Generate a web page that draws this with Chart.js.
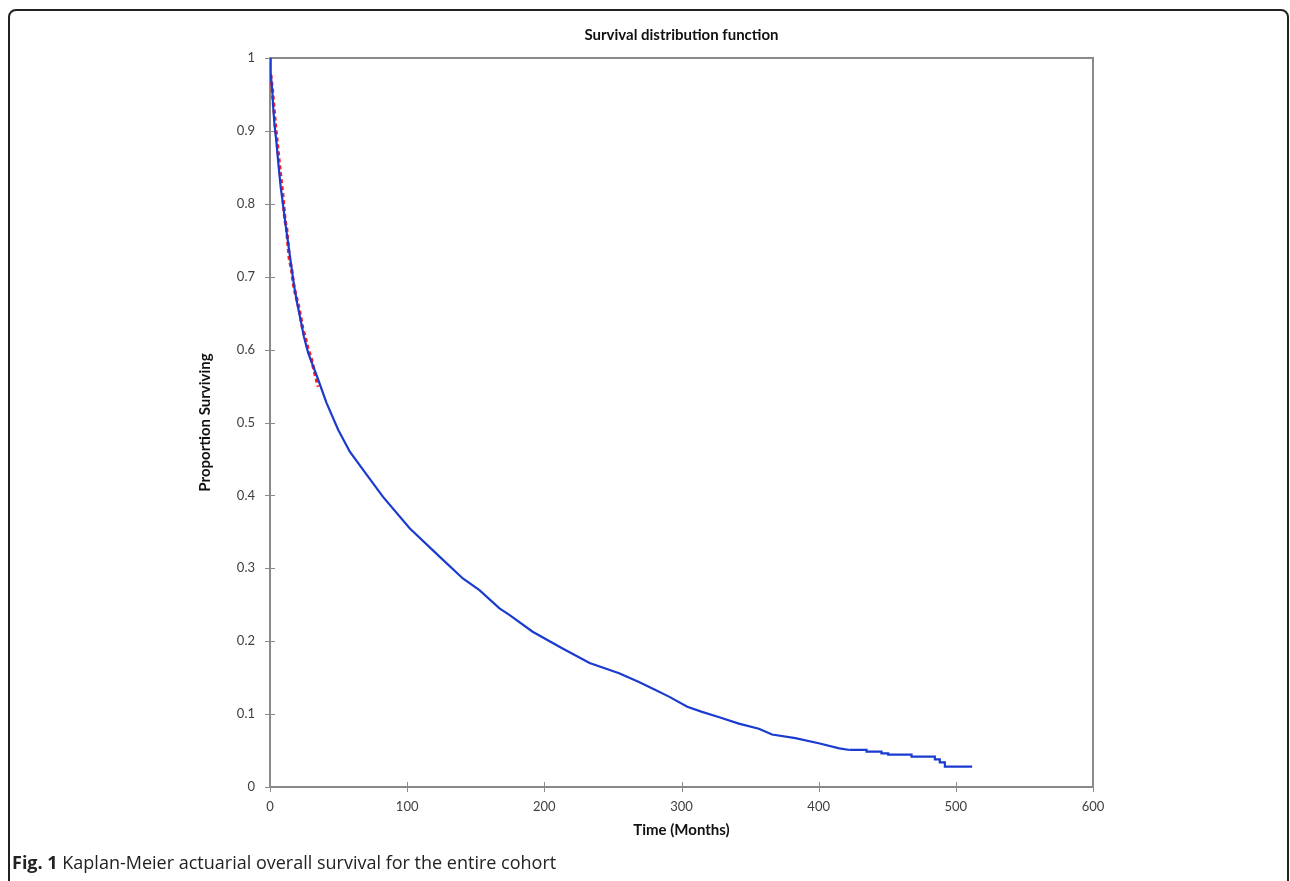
<!DOCTYPE html>
<html>
<head>
<meta charset="utf-8">
<title>Survival distribution function</title>
<script src="https://cdn.jsdelivr.net/npm/chart.js@4.4.1/dist/chart.umd.min.js"></script>
<style>
    html, body { margin: 0; padding: 0; background: #fff; }
    #wrap { position: relative; width: 1290px; height: 881px; overflow: hidden; }
    #frame {
        position: absolute; left: 8px; top: 9px; width: 1277px; height: 900px;
        border: 2px solid #222; border-radius: 8px; pointer-events: none;
    }
    #caption {
        position: absolute; left: 12px; top: 851px; line-height: 22px;
        font-family: 'Open Sans', sans-serif; font-size: 18px; color: #222; white-space: nowrap;
    }
    #caption b { font-weight: 700; }
</style>
</head>
<body>
<div id="wrap">
    <canvas id="survivalChart" width="1290" height="881"></canvas>
    <div id="frame"></div>
    <div id="caption"><b>Fig. 1</b> Kaplan-Meier actuarial overall survival for the entire cohort</div>
</div>
<script>
// Kaplan-Meier estimate, whole cohort (time in months, proportion surviving)
const curveMonths = [0, 0.5, 1.7, 2.4, 3.2, 4.8, 6.1, 7.8, 9.7, 11.6, 13.6, 15.8, 17.7, 19.9, 22.3, 24.7,
    27.9, 31.5, 35.1, 41.2, 49.7, 58.2, 67.9, 82.4, 101.8, 123.6, 140.6, 152.7, 167.3, 174.5, 191.5,
    213.3, 233, 254.5, 269, 278.8, 290.9, 304.2, 315, 327, 341.8, 356.4, 366, 383, 400, 415, 422.7];
const curveSurvival = [1, 0.979, 0.954, 0.931, 0.910, 0.883, 0.855, 0.823, 0.796, 0.768, 0.741, 0.711, 0.686, 0.663, 0.641, 0.618,
    0.595, 0.577, 0.559, 0.527, 0.490, 0.460, 0.435, 0.398, 0.355, 0.316, 0.286, 0.270, 0.245, 0.236, 0.213,
    0.190, 0.170, 0.156, 0.144, 0.135, 0.124, 0.110, 0.103, 0.096, 0.087, 0.080, 0.072, 0.067, 0.060, 0.053, 0.0508];

// last few events, drawn as steps
const tailMonths = [422.7, 434.9, 445.8, 450.7, 467.7, 484.7, 488.3, 492, 511.9];
const tailSurvival = [0.0508, 0.0485, 0.0462, 0.0443, 0.0416, 0.038, 0.0339, 0.0279, 0.0279];

// actuarial estimate over the first three years (red, under the blue curve)
const actuarialMonths = [0.5, 1.7, 3.6, 4.4, 6.8, 7.8, 9.2, 10.9, 12.1, 14.1, 15.8, 17.0, 18.5, 20.6, 22.3, 23.8, 25.5, 27.9, 29.7, 35.2];
const actuarialSurvival = [0.977, 0.956, 0.915, 0.899, 0.855, 0.837, 0.814, 0.778, 0.766, 0.725, 0.709, 0.691, 0.677, 0.661, 0.645, 0.629, 0.618, 0.599, 0.590, 0.549];

const xTickValues = [0, 100, 200, 300, 400, 500, 600];
const yTickValues = [0, 0.1, 0.2, 0.3, 0.4, 0.5, 0.6, 0.7, 0.8, 0.9, 1];

const toPoints = (xs, ys) => xs.map((x, i) => ({ x, y: ys[i] }));

const AXIS_GREY = '#8a8a8a';
const CURVE_BLUE = '#1a3bcf';
const CHART_FONT = 'Lato, "Liberation Sans", sans-serif';

// grey box around the plot area plus tick marks crossing the axes
const plotFrame = {
    id: 'plotFrame',
    beforeDatasetsDraw(chart) {
        const { ctx, chartArea: a, scales } = chart;
        ctx.save();
        ctx.strokeStyle = AXIS_GREY;
        ctx.lineWidth = 2;
        ctx.strokeRect(a.left, a.top, a.right - a.left, a.bottom - a.top);

        ctx.lineWidth = 1;
        ctx.beginPath();
        scales.y.ticks.forEach((t, i) => {
            const py = Math.round(scales.y.getPixelForTick(i)) + 0.5;
            ctx.moveTo(a.left - 5, py);
            ctx.lineTo(a.left + 5, py);
        });
        scales.x.ticks.forEach((t, i) => {
            const px = Math.round(scales.x.getPixelForTick(i)) + 0.5;
            ctx.moveTo(px, a.bottom - 5);
            ctx.lineTo(px, a.bottom + 5);
        });
        ctx.stroke();
        ctx.restore();
    }
};

new Chart(document.getElementById('survivalChart'), {
    type: 'scatter',
    data: {
        datasets: [
            {
                label: 'Kaplan-Meier',
                data: toPoints(curveMonths, curveSurvival),
                showLine: true,
                borderColor: CURVE_BLUE,
                borderWidth: 2.2,
                pointRadius: 0,
                order: 0,
            },
            {
                label: 'Kaplan-Meier (tail)',
                data: toPoints(tailMonths, tailSurvival),
                showLine: true,
                stepped: true,
                borderColor: CURVE_BLUE,
                borderWidth: 2.2,
                pointRadius: 0,
                order: 0,
            },
            {
                label: 'Actuarial',
                data: toPoints(actuarialMonths, actuarialSurvival),
                showLine: true,
                borderColor: '#ff1f1f',
                borderWidth: 3.4,
                borderDash: [4, 3],
                pointRadius: 0,
                order: 1,
            },
        ],
    },
    options: {
        responsive: false,
        animation: false,
        layout: { padding: { top: 0, right: 197, bottom: 40, left: 190 } },
        plugins: {
            legend: { display: false },
            tooltip: { enabled: false },
            title: {
                display: true,
                text: 'Survival distribution function',
                fullSize: false,
                color: '#111',
                font: { family: CHART_FONT, size: 15, weight: 'bold' },
                padding: { top: 26, bottom: 14 },
            },
        },
        scales: {
            x: {
                type: 'linear',
                min: 0,
                max: 600,
                afterBuildTicks: scale => { scale.ticks = xTickValues.map(value => ({ value })); },
                afterFit: scale => { scale.height = 54; },
                grid: { display: false, drawTicks: false },
                border: { display: false },
                ticks: {
                    padding: 12,
                    color: '#404040',
                    font: { family: CHART_FONT, size: 13 },
                    callback: v => String(v),
                },
                title: {
                    display: true,
                    text: 'Time (Months)',
                    color: '#111',
                    font: { family: CHART_FONT, size: 15, weight: 'bold' },
                    padding: { top: 0, bottom: 2 },
                },
            },
            y: {
                type: 'linear',
                min: 0,
                max: 1,
                afterBuildTicks: scale => { scale.ticks = yTickValues.map(value => ({ value })); },
                afterFit: scale => { scale.width = 80; },
                grid: { display: false, drawTicks: false },
                border: { display: false },
                ticks: {
                    padding: 15,
                    color: '#404040',
                    font: { family: CHART_FONT, size: 13 },
                    callback: v => String(+v.toFixed(1)),
                },
                title: {
                    display: true,
                    text: 'Proportion Surviving',
                    color: '#111',
                    font: { family: CHART_FONT, size: 15, weight: 'bold' },
                    padding: { top: 6, bottom: 0 },
                },
            },
        },
    },
    plugins: [plotFrame],
});
</script>
</body>
</html>
